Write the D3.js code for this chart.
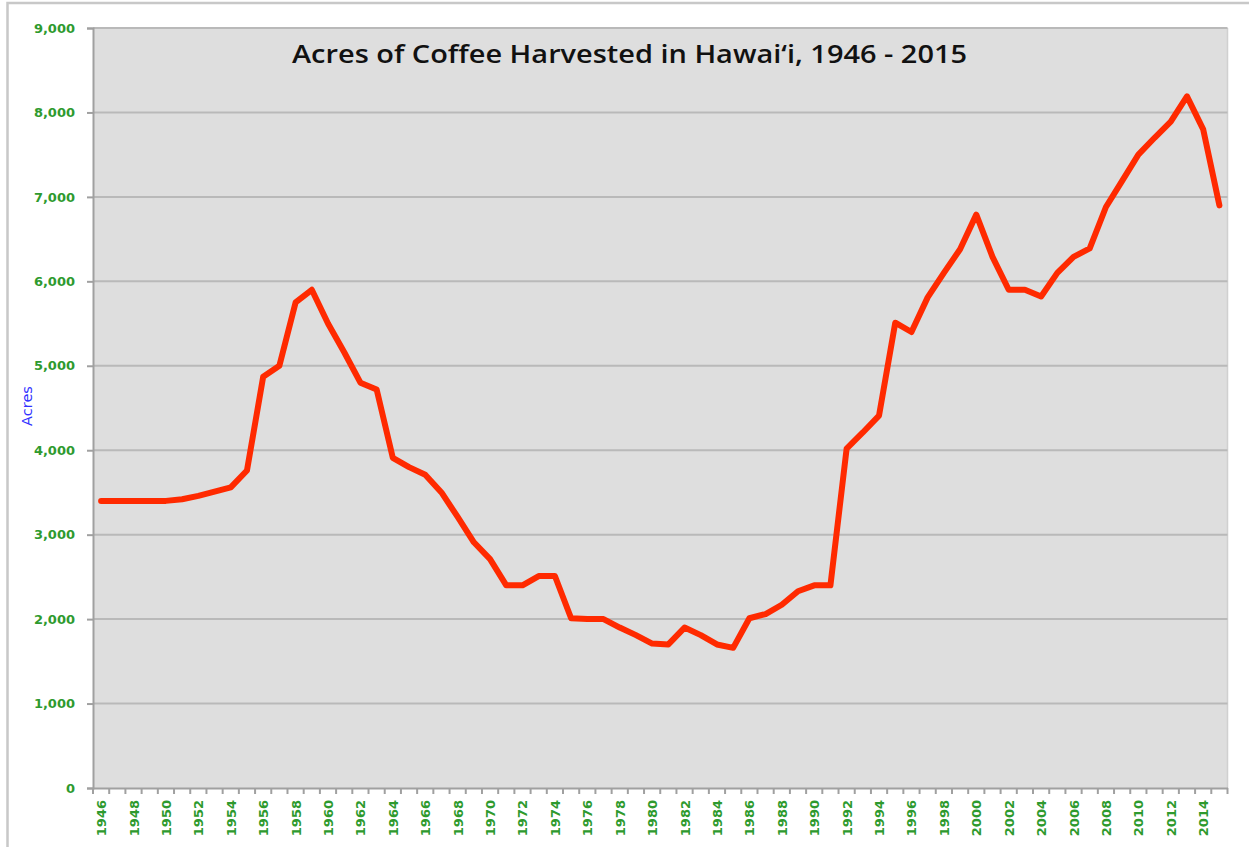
<!DOCTYPE html>
<html>
<head>
<meta charset="utf-8">
<script src="https://cdn.jsdelivr.net/npm/d3@7"></script>
<style>
  html, body { margin: 0; padding: 0; background: #fff; }
  svg { display: block; }
</style>
</head>
<body>
<svg id="chart" width="1249" height="847"></svg>
<script>
const years = d3.range(1946, 2016);
const acres = [
  3400, 3400, 3400, 3400, 3400, 3420, 3460, 3510, 3560, 3760,
  4870, 5000, 5750, 5900, 5500, 5160, 4800, 4720, 3910, 3800,
  3710, 3500, 3210, 2910, 2710, 2400, 2400, 2510, 2510, 2010,
  2000, 2000, 1900, 1810, 1710, 1700, 1900, 1810, 1700, 1660,
  2010, 2060, 2170, 2330, 2400, 2400, 4020, 4210, 4410, 5510,
  5400, 5810, 6100, 6380, 6790, 6290, 5900, 5900, 5820, 6100,
  6290, 6390, 6880, 7190, 7500, 7700, 7890, 8190, 7800, 6900
];
const yTicks = [0, 1000, 2000, 3000, 4000, 5000, 6000, 7000, 8000, 9000];
const xLabelYears = years.filter(y => (y - 1946) % 2 === 0);
const titleText = "Acres of Coffee Harvested in Hawai\u2018i, 1946 - 2015";
const yAxisTitle = "Acres";

(function () {
const svg = d3.select("#chart");
const pL = 93, pR = 1227.5, pT = 28, pB = 788;
const tickFont = "'DejaVu Sans', Verdana, sans-serif";

// outer frame
svg.append("rect").attr("x", 7.5).attr("y", 3).attr("width", 1260).attr("height", 900)
  .attr("fill", "none").attr("stroke", "#c8c8c8").attr("stroke-width", 2.5);

const x = d3.scaleBand().domain(years).range([pL, pR]).padding(0);
const y = d3.scaleLinear().domain([0, 9000]).range([pB, pT]);

// plot background
svg.append("rect").attr("x", pL).attr("y", pT).attr("width", pR - pL).attr("height", pB - pT)
  .attr("fill", "#dedede");
svg.append("line").attr("x1", pR).attr("x2", pR).attr("y1", pT).attr("y2", pB)
  .attr("stroke", "#d0d0d0").attr("stroke-width", 1.5);

// gridlines
svg.append("g").selectAll("line").data(yTicks.filter(v => v > 0)).join("line")
  .attr("x1", pL).attr("x2", pR)
  .attr("y1", d => y(d)).attr("y2", d => y(d))
  .attr("stroke", "#b9b9b9").attr("stroke-width", 2);

// y axis
const yAxis = d3.axisLeft(y).tickValues(yTicks).tickSize(6).tickPadding(12)
  .tickFormat(d3.format(","));
const gy = svg.append("g").attr("transform", `translate(${pL},0)`).call(yAxis);
gy.attr("font-family", tickFont).attr("font-size", 13);
gy.select(".domain").attr("stroke", "#a0a0a0").attr("stroke-width", 2);
gy.selectAll(".tick line").attr("stroke", "#a0a0a0").attr("stroke-width", 2);
gy.selectAll(".tick text").attr("fill", "#2e9a2e").attr("font-family", tickFont)
  .attr("font-weight", 700).attr("font-size", 13);

// x axis
const xAxis = d3.axisBottom(x).tickSize(0).tickFormat("");
const gx = svg.append("g").attr("transform", `translate(0,${pB})`).call(xAxis);
gx.attr("font-family", tickFont).attr("font-size", 13);
gx.select(".domain").attr("stroke", "#a0a0a0").attr("stroke-width", 2);
gx.selectAll(".tick").remove();
const boundaries = years.map(yr => x(yr)).concat([pR]);
gx.append("g").selectAll("line").data(boundaries).join("line")
  .attr("x1", d => d).attr("x2", d => d).attr("y1", 0).attr("y2", 6)
  .attr("stroke", "#a0a0a0").attr("stroke-width", 2);
gx.append("g").selectAll("text").data(xLabelYears).join("text")
  .attr("transform", d => `translate(${x(d) + x.bandwidth() / 2 + 5},12) rotate(-90)`)
  .attr("text-anchor", "end")
  .attr("fill", "#2e9a2e").attr("font-family", tickFont)
  .attr("font-weight", 700).attr("font-size", 13)
  .text(d => d);

// y axis title
svg.append("text").attr("transform", "translate(32,406) rotate(-90)")
  .attr("text-anchor", "middle").attr("fill", "#3333ff")
  .attr("font-family", tickFont).attr("font-size", 14.5)
  .text(yAxisTitle);

// line
const line = d3.line().x((d, i) => x(years[i]) + x.bandwidth() / 2).y(d => y(d));
svg.append("path").datum(acres).attr("d", line)
  .attr("fill", "none").attr("stroke", "#ff2a00").attr("stroke-width", 6)
  .attr("stroke-linejoin", "round").attr("stroke-linecap", "round");

// title
svg.append("text").attr("x", 629.5).attr("y", 63).attr("text-anchor", "middle")
  .attr("font-family", "'Open Sans', sans-serif").attr("font-weight", 600).attr("font-size", 26)
  .attr("fill", "#111")
  .attr("textLength", 675).attr("lengthAdjust", "spacingAndGlyphs")
  .text(titleText);
})();
</script>
</body>
</html>
